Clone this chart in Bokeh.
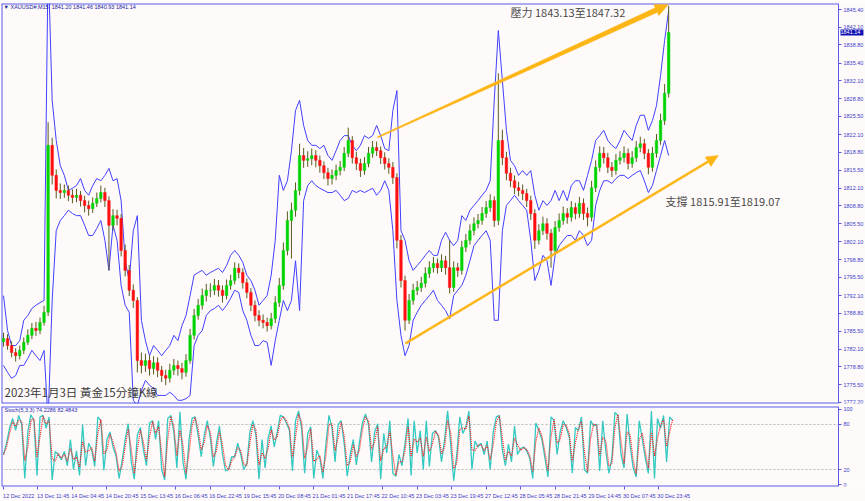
import math
import numpy as np
import pandas as pd
from bokeh.plotting import figure
from bokeh.layouts import column
from bokeh.models import (Range1d, FixedTicker, Label, ColumnDataSource, LinearAxis,
                          NumeralTickFormatter)
from bokeh.embed import file_html
from bokeh.resources import INLINE

# ---------------- data (XAUUSD 15-minute chart, sampled every 8 bars) ----------------
BAR_STEP = 8
first_open = 1783.5
closes = [1784.1,1782.8,1781.5,1780.9,1781.9,1783.4,1784.7,1786.0,1785.6,1787.1,
          1789.0,1820.1,1814.5,1811.7,1811.3,1811.7,1810.8,1810.4,1810.8,1809.8,
          1808.9,1808.3,1809.3,1810.2,1811.3,1809.8,1805.2,1807.0,1806.5,1800.5,
          1796.8,1793.1,1791.2,1780.0,1779.1,1780.0,1778.5,1779.6,1778.2,1777.2,
          1776.7,1778.2,1779.1,1778.5,1777.8,1780.0,1784.7,1788.4,1790.3,1792.1,
          1793.1,1793.1,1794.0,1793.1,1792.1,1794.0,1794.9,1797.2,1796.4,1794.5,
          1792.7,1790.3,1788.4,1787.5,1787.1,1786.5,1787.8,1790.8,1794.0,1800.5,
          1806.1,1808.0,1811.7,1818.2,1817.3,1817.6,1818.2,1817.3,1816.3,1815.0,
          1813.9,1814.5,1815.4,1816.0,1818.6,1821.0,1817.8,1816.7,1815.4,1816.7,
          1818.6,1819.7,1819.1,1817.8,1816.7,1816.0,1814.1,1802.4,1794.9,1787.5,
          1791.2,1793.1,1793.6,1794.4,1796.2,1797.3,1798.1,1797.3,1798.6,1797.3,
          1793.6,1797.3,1796.8,1801.1,1802.4,1804.2,1805.5,1806.1,1807.4,1808.5,
          1809.8,1806.1,1821.0,1817.8,1814.9,1813.5,1812.2,1811.7,1811.1,1809.8,
          1807.4,1802.4,1804.2,1805.5,1803.7,1800.5,1804.8,1806.1,1807.4,1806.7,
          1808.5,1807.4,1809.3,1807.4,1806.7,1812.2,1816.0,1818.6,1817.8,1816.0,
          1815.4,1817.3,1817.8,1818.6,1816.7,1817.8,1819.7,1820.4,1818.6,1816.0,
          1818.6,1821.0,1824.7,1829.8,1841.14]
highs = [1785.2,1784.9,1783.6,1782.3,1782.8,1784.3,1785.8,1787.0,1787.2,1788.0,
         1790.2,1824.4,1821.5,1815.6,1813.0,1812.8,1812.6,1811.9,1812.0,1811.6,
         1810.7,1809.8,1810.4,1811.3,1812.6,1812.2,1810.6,1808.2,1808.1,1807.3,
         1801.6,1797.8,1794.2,1791.8,1781.5,1781.3,1781.0,1780.8,1780.6,1779.0,
         1778.3,1779.4,1780.3,1780.0,1779.6,1781.2,1785.9,1789.6,1791.5,1793.4,
         1794.3,1794.4,1795.2,1795.0,1794.0,1795.1,1796.0,1798.3,1798.1,1797.2,
         1795.3,1793.5,1791.2,1789.4,1788.6,1788.0,1788.9,1792.0,1795.4,1802.0,
         1807.8,1809.4,1813.2,1820.4,1819.6,1819.0,1819.5,1819.2,1818.2,1817.1,
         1815.9,1815.6,1816.5,1817.2,1819.8,1823.4,1821.8,1818.9,1817.6,1817.9,
         1819.8,1820.9,1820.8,1819.9,1818.8,1817.7,1817.0,1814.9,1803.4,1795.8,
         1792.4,1794.3,1794.8,1795.6,1797.4,1798.5,1799.3,1799.0,1799.8,1799.5,
         1802.4,1798.5,1798.2,1802.3,1803.6,1805.4,1806.7,1807.3,1808.6,1809.7,
         1811.0,1810.6,1833.5,1823.0,1818.9,1815.9,1814.5,1813.3,1812.8,1812.0,
         1810.7,1808.2,1805.4,1806.8,1806.5,1804.5,1806.0,1807.4,1808.7,1808.4,
         1809.7,1809.4,1810.5,1810.2,1808.5,1813.5,1817.3,1819.9,1819.8,1818.7,
         1817.0,1818.5,1819.0,1819.9,1819.5,1819.0,1820.9,1821.7,1821.3,1819.4,
         1819.8,1822.2,1826.0,1831.5,1846.1]
lows = [1782.6,1782.0,1780.6,1779.8,1780.2,1781.2,1782.9,1784.0,1784.6,1784.9,
        1786.5,1788.3,1812.8,1810.2,1810.1,1810.3,1809.7,1809.3,1809.5,1808.7,
        1807.6,1807.0,1807.5,1808.6,1809.5,1808.6,1796.8,1804.3,1805.2,1799.4,
        1795.7,1792.0,1789.8,1777.8,1777.6,1777.9,1777.2,1777.4,1776.9,1776.0,
        1775.4,1775.9,1777.3,1777.2,1776.5,1777.0,1779.4,1783.9,1787.6,1789.5,
        1791.0,1791.8,1792.2,1791.9,1790.8,1791.4,1793.2,1794.2,1795.3,1793.4,
        1791.6,1789.2,1787.3,1786.4,1786.0,1785.4,1785.8,1787.0,1790.0,1793.2,
        1799.6,1799.0,1806.8,1810.8,1815.9,1816.1,1816.4,1816.0,1815.0,1813.8,
        1812.6,1812.8,1813.6,1814.5,1815.3,1817.9,1816.7,1815.5,1814.2,1814.6,
        1816.0,1817.8,1818.1,1816.6,1815.6,1814.8,1812.9,1800.9,1793.6,1785.6,
        1786.8,1790.4,1792.2,1792.8,1793.6,1795.4,1796.4,1796.2,1796.5,1796.0,
        1792.5,1792.8,1795.6,1796.0,1800.2,1801.6,1803.3,1804.6,1805.3,1806.6,
        1807.7,1804.9,1805.2,1816.4,1813.6,1812.3,1811.0,1810.6,1809.9,1808.6,
        1806.2,1800.8,1801.6,1803.4,1802.5,1797.3,1799.8,1804.0,1805.3,1805.5,
        1805.9,1806.3,1806.6,1806.2,1805.0,1805.9,1811.4,1815.2,1816.7,1814.9,
        1814.2,1814.6,1816.5,1816.9,1815.6,1815.9,1817.0,1818.8,1817.5,1814.7,
        1815.2,1817.8,1820.2,1823.9,1829.0]
upper_band = [1792.1,1785.6,1782.8,1782.8,1783.7,1787.5,1788.4,1789.7,1790.3,1790.8,
              1791.2,1854.5,1828.5,1821.0,1816.3,1814.5,1811.7,1812.1,1812.6,1813.9,
              1811.7,1810.8,1812.6,1813.9,1813.5,1814.5,1815.8,1813.5,1813.9,1809.8,
              1798.6,1794.9,1804.2,1807.0,1787.5,1783.7,1780.9,1782.8,1781.9,1780.9,
              1781.9,1782.8,1784.7,1783.7,1786.5,1788.4,1792.1,1795.9,1796.4,1796.8,
              1795.9,1796.4,1796.8,1797.2,1796.4,1797.7,1799.6,1800.5,1799.6,1798.3,
              1795.9,1794.9,1793.1,1790.3,1791.2,1792.1,1795.9,1802.4,1814.5,1811.7,
              1813.5,1819.1,1826.6,1828.5,1823.8,1821.0,1820.1,1820.1,1819.5,1820.1,
              1818.2,1817.3,1819.1,1821.0,1821.9,1821.9,1820.1,1819.1,1820.1,1821.9,
              1821.4,1821.9,1823.8,1821.9,1819.5,1819.1,1826.6,1830.3,1804.2,1802.4,
              1798.6,1796.8,1797.7,1798.6,1799.6,1800.5,1799.6,1799.6,1802.4,1803.9,
              1802.4,1801.4,1802.4,1807.0,1806.1,1808.0,1808.9,1809.8,1810.8,1811.7,
              1813.5,1828.5,1841.5,1832.2,1822.9,1817.3,1816.3,1814.5,1815.4,1814.5,
              1815.4,1810.8,1808.0,1809.8,1808.9,1809.8,1811.7,1809.8,1811.7,1809.8,
              1812.6,1813.5,1813.5,1811.7,1814.5,1817.3,1821.0,1821.9,1822.9,1821.0,
              1820.1,1819.5,1821.0,1822.9,1821.9,1821.0,1823.8,1825.7,1825.7,1822.9,
              1824.7,1827.5,1833.1,1839.6,1845.2]
lower_band = [1779.1,1777.8,1776.7,1777.2,1779.1,1779.1,1780.4,1781.9,1780.9,1780.0,
              1781.9,1768.8,1791.2,1804.2,1806.1,1807.0,1808.0,1807.4,1807.0,1807.0,
              1805.2,1803.3,1803.3,1804.6,1806.1,1802.4,1796.8,1805.2,1802.4,1794.0,
              1790.3,1789.0,1772.6,1771.6,1774.4,1776.3,1775.4,1774.8,1773.5,1773.5,
              1773.5,1774.1,1773.5,1772.6,1772.6,1772.9,1773.5,1782.8,1784.7,1785.6,
              1788.4,1789.3,1789.7,1790.3,1789.3,1790.3,1791.6,1793.1,1792.7,1789.3,
              1787.5,1784.7,1782.8,1782.8,1783.7,1783.4,1779.1,1783.7,1787.5,1791.2,
              1789.3,1791.2,1798.6,1789.3,1809.8,1812.6,1813.5,1812.6,1812.1,1811.7,
              1811.3,1811.3,1811.7,1810.8,1809.8,1810.2,1811.7,1811.3,1811.7,1811.3,
              1811.7,1812.1,1810.8,1811.7,1813.5,1811.7,1804.2,1791.2,1784.7,1780.9,
              1782.8,1787.5,1789.0,1790.3,1791.2,1792.1,1793.1,1791.2,1790.3,1789.3,
              1787.8,1792.1,1793.1,1794.0,1795.9,1798.6,1801.4,1802.4,1803.3,1804.2,
              1802.4,1787.5,1787.5,1804.2,1808.9,1809.8,1810.8,1809.8,1808.9,1808.0,
              1802.4,1794.9,1796.8,1799.6,1798.6,1794.0,1799.6,1801.4,1802.4,1803.3,
              1803.3,1802.4,1804.2,1803.3,1801.4,1802.4,1808.9,1811.7,1813.5,1813.5,
              1813.0,1813.9,1814.5,1814.5,1813.9,1814.5,1815.0,1815.4,1813.5,1811.3,
              1812.6,1815.4,1818.2,1821.0,1818.2]

# Stochastic(5,3,3) %K, sampled every 6 bars
STOCH_STEP = 6
stoch_k = [40,55,75,88,72,92,80,8,70,93, 85,12,90,92,75,90,6,44,40,33,
           44,25,60,20,45,12,80,25,55,46, 24,90,85,19,60,70,50,38,8,32,
           60,81,30,7,66,76,46,25,82,85, 60,85,20,6,88,92,70,22,97,30,
           7,60,88,90,65,37,66,85,62,24, 55,78,40,18,20,37,37,55,40,20,
           28,70,85,65,7,60,22,62,78,50, 70,92,90,82,72,18,85,98,
           75,15,68,77,8,46,35,8,55,92, 75,30,80,85,54,11,40,60,26,56,
           82,94,80,30,70,81,7,68,42,85, 15,11,40,25,55,88,12,85,42,72,
           20,85,24,68,72,63,30,60,98,54, 5,40,90,68,77,98,20,58,50,55,
           40,58,20,70,90,92,46,25,54,30, 78,40,48,50,45,35,8,82,72,60,
           35,10,90,85,40,70,85,76,63,15, 76,72,
           90,20,15,85,78,80,18,85,45,15, 35,96,92,40,22,94,52,22,10,85,
           60,35,15,98,8,88,75,92,30,90, 85]
stoch_levels = [20, 80]

price_ticks = [1845.40, 1842.10, 1838.80, 1835.40, 1832.10, 1828.80, 1825.50, 1822.10,
               1818.80, 1815.50, 1812.10, 1808.80, 1805.50, 1802.10, 1798.80, 1795.50,
               1792.10, 1788.80, 1785.50, 1782.10, 1778.80, 1775.50, 1772.20]
stoch_ticks = [0, 20, 80, 100]
time_tick_bars = [0, 68, 136, 204, 272, 340, 408, 476, 544, 612, 680, 748, 816, 884,
                  952, 1020, 1088, 1156, 1224, 1292]
time_tick_labels = ["12 Dec 2022", "13 Dec 11:45", "14 Dec 04:45", "14 Dec 20:45",
                    "15 Dec 13:45", "16 Dec 06:45", "16 Dec 22:45", "19 Dec 15:45",
                    "20 Dec 08:45", "21 Dec 01:45", "21 Dec 17:45", "22 Dec 10:45",
                    "23 Dec 03:45", "23 Dec 19:45", "27 Dec 12:45", "28 Dec 05:45",
                    "28 Dec 21:45", "29 Dec 14:45", "30 Dec 07:45", "30 Dec 23:45"]
last_price = 1841.14
# trend arrows: (bar start, price start, bar end, price end)
resistance_arrow = (738, 1821.6, 1311, 1846.3)
support_arrow = (793, 1783.2, 1410, 1818.2)

# ---------------- styling ----------------
BG = "#fffafa"
FRAME = "#5a5ae6"
AXIS_TXT = "#3c3cc8"
ORANGE = "#fdb515"
UP = "#00d400"
DOWN = "#ff1010"
WICK = "#5b5b1e"
BAND = "#4040ff"
SMALL = "5.5px"
AXFONT = "Liberation Sans"
CJK = "Noto Sans CJK TC"

W = 865
X_START = -3.94
AXIS_X = 1647.0                 # price scale sits at this bar position (MT4 chart edge)
KX = 837 / (AXIS_X - X_START)   # pixels per bar
X_END = X_START + 864 / KX      # frame runs to the window edge; the scale is drawn inside
Y_START, Y_END = 1772.0, 1846.52
KY = 400 / (Y_END - Y_START)
LABEL_SHIFT = 30   # MT4 writes each time label to the right of its tick


def price_axis(ticks):
    ax = LinearAxis(fixed_location=AXIS_X, ticker=FixedTicker(ticks=ticks))
    ax.major_label_text_font_size = SMALL
    ax.major_label_text_font = AXFONT
    ax.major_label_text_color = AXIS_TXT
    ax.axis_line_color = FRAME
    ax.major_tick_line_color = FRAME
    ax.major_tick_out = 3
    ax.major_tick_in = 0
    ax.minor_tick_line_color = None
    ax.major_label_standoff = 2
    return ax


def frame_lines(p, y0, y1):
    p.segment(x0=[X_START, X_START, X_START], y0=[y0, y1, y0],
              x1=[AXIS_X, AXIS_X, X_START], y1=[y0, y1, y1],
              line_color=FRAME, line_width=2)


p1 = figure(width=W, height=405, output_backend="svg", toolbar_location=None,
            x_range=Range1d(X_START, X_END), y_range=Range1d(Y_START, Y_END),
            x_axis_location=None, y_axis_location=None,
            min_border_left=1, min_border_right=0, min_border_top=3, min_border_bottom=2)
p1.background_fill_color = BG
p1.border_fill_color = BG
p1.outline_line_color = None
p1.grid.visible = False
ya = price_axis(price_ticks)
ya.formatter = NumeralTickFormatter(format="0.00")
p1.add_layout(ya, "right")
frame_lines(p1, Y_START, Y_END)

n = len(closes)
xs = [i * BAR_STEP for i in range(n)]
opens = [first_open] + closes[:-1]
colors = [UP if c >= o else DOWN for o, c in zip(opens, closes)]
src = ColumnDataSource(dict(x=xs, open=opens, close=closes, high=highs, low=lows,
                            top=[max(o, c) for o, c in zip(opens, closes)],
                            bottom=[min(o, c) for o, c in zip(opens, closes)],
                            color=colors))
p1.line(xs, upper_band, line_color=BAND, line_width=1)
p1.line(xs, lower_band, line_color=BAND, line_width=1)
p1.segment(x0="x", y0="low", x1="x", y1="high", source=src, line_color=WICK, line_width=1)
p1.vbar(x="x", width=5, top="top", bottom="bottom", source=src,
        fill_color="color", line_color="color", line_width=0.5)


def arrow_shape(x0, y0, x1, y1, w0, w1, head_len, head_w):
    X0, Y0, X1, Y1 = x0 * KX, y0 * KY, x1 * KX, y1 * KY
    dx, dy = X1 - X0, Y1 - Y0
    L = math.hypot(dx, dy)
    ux, uy = dx / L, dy / L
    nx, ny = -uy, ux
    bx, by = X1 - ux * head_len, Y1 - uy * head_len
    pts = [(X0 + nx * w0 / 2, Y0 + ny * w0 / 2), (bx + nx * w1 / 2, by + ny * w1 / 2),
           (bx + nx * head_w, by + ny * head_w), (X1, Y1),
           (bx - nx * head_w, by - ny * head_w), (bx - nx * w1 / 2, by - ny * w1 / 2),
           (X0 - nx * w0 / 2, Y0 - ny * w0 / 2)]
    return [q[0] / KX for q in pts], [q[1] / KY for q in pts]


ax_, ay_ = arrow_shape(*resistance_arrow, 1.2, 5.0, 13, 6)
p1.patch(ax_, ay_, fill_color=ORANGE, line_color=ORANGE, line_width=0.5)
bx_, by_ = arrow_shape(*support_arrow, 2.0, 2.0, 12, 5.5)
p1.patch(bx_, by_, fill_color=ORANGE, line_color=ORANGE, line_width=0.5)

p1.add_layout(Label(x=1000, y=1845.0, text="壓力 1843.13至1847.32", text_font=CJK,
                    text_font_size="11px", text_color="#4a4a4a", text_baseline="middle"))
p1.add_layout(Label(x=1306, y=1809.8, text="支撐 1815.91至1819.07", text_font=CJK,
                    text_font_size="11px", text_color="#4a4a4a", text_baseline="middle"))
p1.add_layout(Label(x=2, y=1774.05, text="2023年1月3日 黃金15分鐘K線", text_font=CJK,
                    text_font_size="11.5px", text_color="#3a3a3a", text_baseline="middle"))
p1.add_layout(Label(x=0, y=1845.96, text="▼ XAUUSD#,M15", text_font=AXFONT,
                    text_font_size=SMALL, text_color="#1a1a9a", text_baseline="middle"))
p1.add_layout(Label(x=95, y=1845.96, text="1841.20 1841.46 1840.93 1841.14", text_font=AXFONT,
                    text_font_size=SMALL, text_color="#1a1a9a", text_baseline="middle"))
# current-price marker on the price scale
p1.add_layout(Label(x=AXIS_X, x_offset=2, y=last_price, text="1841.14  ", text_font=AXFONT,
                    text_font_size=SMALL, text_color="white", text_baseline="middle",
                    background_fill_color="#1010b4"))

# ---------------- stochastic panel ----------------
S_START, S_END = -2.6, 103.9
p2 = figure(width=W, height=96, output_backend="svg", toolbar_location=None,
            x_range=p1.x_range, y_range=Range1d(S_START, S_END),
            y_axis_location=None,
            min_border_left=1, min_border_right=0, min_border_top=1, min_border_bottom=14)
p2.background_fill_color = BG
p2.border_fill_color = BG
p2.outline_line_color = None
p2.grid.visible = False
p2.add_layout(price_axis(stoch_ticks), "right")
frame_lines(p2, S_START, S_END)

xa = p2.xaxis[0]
shifted = [b + LABEL_SHIFT for b in time_tick_bars]
xa.ticker = FixedTicker(ticks=shifted, minor_ticks=time_tick_bars)
xa.major_label_overrides = {s: t for s, t in zip(shifted, time_tick_labels)}
xa.major_label_text_font_size = SMALL
xa.major_label_text_font = AXFONT
xa.major_label_text_color = AXIS_TXT
xa.axis_line_color = None
xa.major_tick_line_color = None
xa.minor_tick_line_color = FRAME
xa.minor_tick_out = 3
xa.minor_tick_in = 0
xa.major_label_standoff = 0

p2.segment(x0=[X_START] * len(stoch_levels), y0=stoch_levels,
           x1=[AXIS_X] * len(stoch_levels), y1=stoch_levels,
           line_color="#b8b8b8", line_dash="2 2", line_width=1)

sx = [j * STOCH_STEP for j in range(len(stoch_k))]
# %D signal: 3-bar average, which at this 6-bar sampling mostly follows %K
stoch_d = [(2 * stoch_k[j] + stoch_k[max(j - 1, 0)]) / 3 for j in range(len(stoch_k))]
p2.line(sx, stoch_k, line_color="#34c9c1", line_width=1.3)
p2.line(sx, stoch_d, line_color="#ff1a1a", line_width=1.2, line_dash="1 1")

p2.add_layout(Label(x=2, y=98.7, text="Stoch(5,3,3) 74.2286 82.4843", text_font=AXFONT,
                    text_font_size=SMALL, text_color="#2a2ab0", text_baseline="middle"))

layout = column(p1, p2, spacing=0)
open("out.html", "w").write(file_html(layout, INLINE))
